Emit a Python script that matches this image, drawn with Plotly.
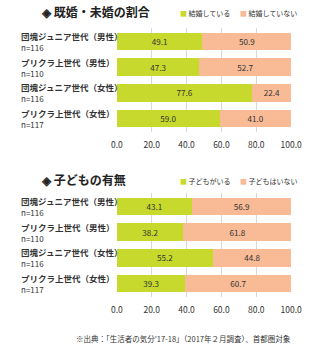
import plotly.graph_objects as go

categories = ["団塊ジュニア世代（男性）", "プリクラ上世代（男性）", "団塊ジュニア世代（女性）", "プリクラ上世代（女性）"]
sample_n = ["n=116", "n=110", "n=116", "n=117"]
married = [49.1, 47.3, 77.6, 59.0]
unmarried = [50.9, 52.7, 22.4, 41.0]
children = [43.1, 38.2, 55.2, 39.3]
no_children = [56.9, 61.8, 44.8, 60.7]
ticks = [0, 20, 40, 60, 80, 100]
tick_labels = ["0.0", "20.0", "40.0", "60.0", "80.0", "100.0"]

GREEN = "#c6d92c"
SALMON = "#f8bb96"
TXT = "#333333"
FONT = "Noto Sans CJK JP"
W, H = 322, 350

def px(x):
    return x / W

def py(y):
    return 1 - y / H

fig = go.Figure()

def add_bars(vals1, vals2, name1, name2, yax, xax):
    for vals, name, col in [(vals1, name1, GREEN), (vals2, name2, SALMON)]:
        fig.add_trace(go.Bar(
            y=categories, x=vals, orientation="h", name=name,
            marker=dict(color=col, line=dict(width=0)),
            text=[f"{v:.1f}" for v in vals], textposition="inside",
            insidetextanchor="middle", textangle=0,
            textfont=dict(size=9.5, color=TXT, family=FONT),
            xaxis=xax, yaxis=yax, showlegend=False, hoverinfo="skip",
        ))

add_bars(married, unmarried, "結婚している", "結婚していない", "y", "x")
add_bars(children, no_children, "子どもがいる", "子どもはいない", "y2", "x2")

xcommon = dict(range=[0, 100], tickvals=ticks, ticktext=tick_labels,
               showgrid=True, gridcolor="#d9d9d9", gridwidth=1,
               zeroline=False, showline=False, ticks="outside", ticklen=5,
               tickcolor="rgba(0,0,0,0)",
               tickfont=dict(size=8.5, color=TXT, family=FONT),
               domain=[px(117), px(301)], fixedrange=True)
ycommon = dict(categoryorder="array", categoryarray=categories, autorange="reversed",
               showticklabels=False, showgrid=False, zeroline=False, showline=False)

fig.update_layout(
    width=W, height=H, margin=dict(l=0, r=0, t=0, b=0),
    paper_bgcolor="white", plot_bgcolor="white",
    barmode="stack", bargap=0.3,
    font=dict(family=FONT, color=TXT),
    xaxis=dict(**xcommon, anchor="y"),
    yaxis=dict(**ycommon, domain=[py(132), py(28)], anchor="x"),
    xaxis2=dict(**xcommon, anchor="y2"),
    yaxis2=dict(**ycommon, domain=[py(297), py(193)], anchor="x2"),
)

ann = []
for yref in ["y", "y2"]:
    for cat, n in zip(categories, sample_n):
        ann.append(dict(xref="paper", yref=yref, x=px(14), y=cat, xanchor="left", yanchor="middle",
                        align="left", showarrow=False,
                        text=f"<b>{cat}</b><br><span style='font-size:8px'>{n}</span>",
                        font=dict(size=8.5, color=TXT, family=FONT)))

titles = [("既婚・未婚の割合", 12, "結婚している", "結婚していない"),
          ("子どもの有無", 180, "子どもがいる", "子どもはいない")]
for title, ty, l1, l2 in titles:
    ann.append(dict(xref="paper", yref="paper", x=px(35), y=py(ty), xanchor="left", yanchor="middle",
                    showarrow=False, text="<b>◈ " + title + "</b>",
                    font=dict(size=12, color="#222222", family=FONT)))
    ann.append(dict(xref="paper", yref="paper", x=px(182), y=py(ty + 1), xanchor="left", yanchor="middle",
                    showarrow=False, text=f"<span style='color:{GREEN}'>■</span> {l1}",
                    font=dict(size=7, color=TXT, family=FONT)))
    ann.append(dict(xref="paper", yref="paper", x=px(245), y=py(ty + 1), xanchor="left", yanchor="middle",
                    showarrow=False, text=f"<span style='color:{SALMON}'>■</span> {l2}",
                    font=dict(size=7, color=TXT, family=FONT)))

ann.append(dict(xref="paper", yref="paper", x=px(303), y=py(338), xanchor="right", yanchor="middle",
                showarrow=False, text="※出典：「生活者の気分'17-18」（2017年２月調査）、首都圏対象",
                font=dict(size=7.5, color=TXT, family=FONT)))

fig.update_layout(annotations=ann)
fig.write_html("out.html")
